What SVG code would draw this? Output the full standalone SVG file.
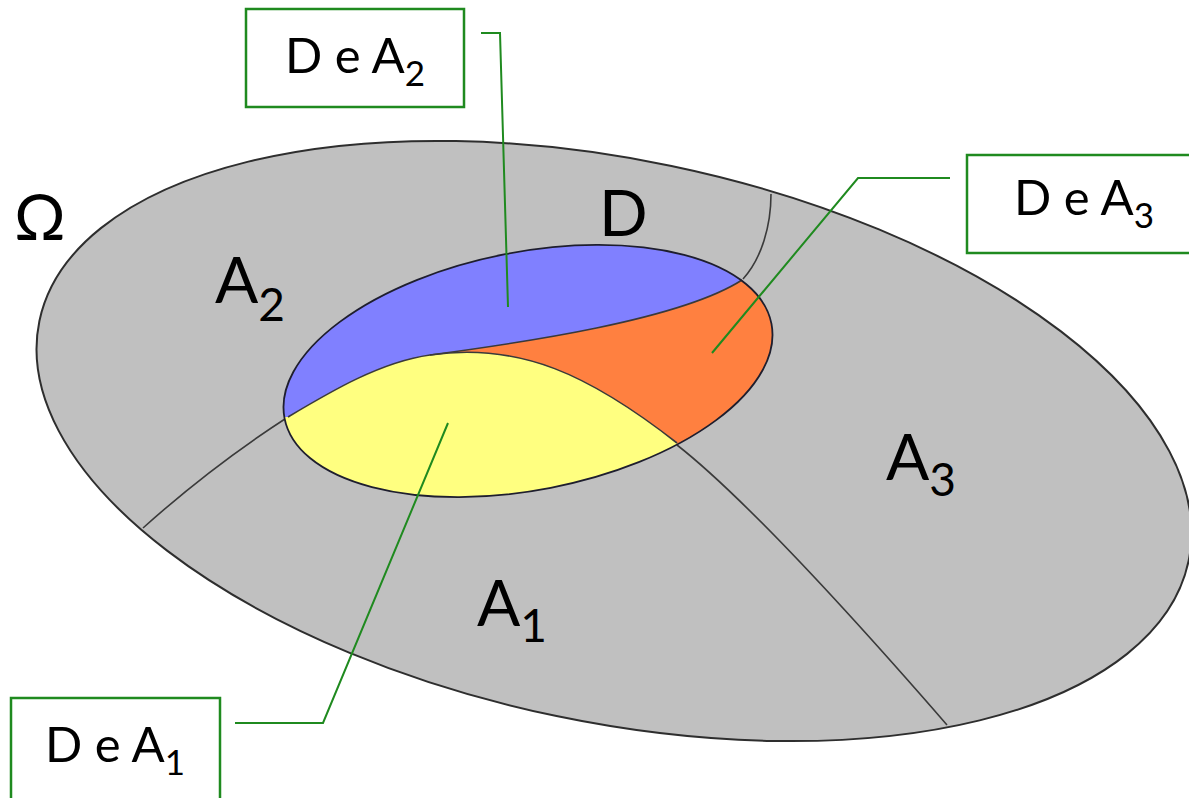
<svg xmlns="http://www.w3.org/2000/svg" width="1189" height="798" viewBox="0 0 1189 798">
  <style>
    .lbl { font-family: Lato, "Open Sans", "Noto Sans", sans-serif; fill: #000; }
    .big { font-size: 64px; }
    .sub { font-size: 46px; }
    .box { fill: #fff; stroke: #1f8a1f; stroke-width: 2.5; }
    .boxtxt { font-size: 49px; }
    .boxsub { font-size: 35px; }
    .lead { fill: none; stroke: #1f8a1f; stroke-width: 2; }
    .div { fill: none; stroke: #3a3a3a; stroke-width: 1.6; }
  </style>
  <defs>
    <clipPath id="inner-clip">
      <ellipse cx="528" cy="371" rx="248" ry="119" transform="rotate(-11 528 371)"/>
    </clipPath>
  </defs>

  <rect width="1189" height="798" fill="#fff"/>

  <!-- Omega: the whole domain -->
  <g id="omega">
    <ellipse cx="614" cy="441" rx="587" ry="281" transform="rotate(11.8 614 441)" fill="#c0c0c0" stroke="#2e2e2e" stroke-width="2"/>
    <text class="lbl big" x="14" y="240">Ω</text>
  </g>

  <!-- partition lines between A1, A2, A3 -->
  <g id="partition">
    <path class="div" d="M143,528 Q212,466 288,417"/>
    <path class="div" d="M677,445 Q760,510 947,725"/>
    <path class="div" d="M771,194 C771,225 762,258 743,279"/>
  </g>

  <!-- D split into its three pieces -->
  <g id="region-d">
    <g clip-path="url(#inner-clip)">
      <rect x="270" y="230" width="520" height="280" fill="#8080ff"/>
      <path d="M288,417 C330,392 380,362 430,355 C520,343 680,320 742,280 L800,270 L800,520 L260,520 L260,417 Z" fill="#ff8040"/>
      <path d="M288,417 C330,392 380,362 430,355 C520,342 590,375 677,443 L690,520 L260,520 L260,417 Z" fill="#ffff80"/>
    </g>
    <path class="div" d="M288,417 C330,392 380,362 430,355 C520,343 680,320 742,280"/>
    <path class="div" d="M430,355 C520,342 590,375 677,443"/>
    <ellipse cx="528" cy="371" rx="248" ry="119" transform="rotate(-11 528 371)" fill="none" stroke="#1e1e2e" stroke-width="1.8"/>
    <text class="lbl big" x="599" y="236">D</text>
  </g>

  <g id="label-a1">
    <text class="lbl big" x="477" y="626">A<tspan class="sub" dy="16">1</tspan></text>
  </g>
  <g id="label-a2">
    <text class="lbl big" x="215" y="303">A<tspan class="sub" dy="18">2</tspan></text>
  </g>
  <g id="label-a3">
    <text class="lbl big" x="886" y="480">A<tspan class="sub" dy="16">3</tspan></text>
  </g>

  <!-- callout leaders -->
  <g id="connectors">
    <path class="lead" d="M481,33 H500 L508,307"/>
    <path class="lead" d="M950,178 H858 L712,353"/>
    <path class="lead" d="M235,723 H323 L448,423"/>
  </g>

  <!-- callout boxes -->
  <g id="callout-d-a2">
    <rect class="box" x="246" y="9" width="218" height="98"/>
    <text class="lbl boxtxt" x="355" y="73" text-anchor="middle">D e A<tspan class="boxsub" dy="13">2</tspan></text>
  </g>
  <g id="callout-d-a3">
    <rect class="box" x="967" y="155" width="240" height="98"/>
    <text class="lbl boxtxt" x="1084" y="215" text-anchor="middle">D e A<tspan class="boxsub" dy="13">3</tspan></text>
  </g>
  <g id="callout-d-a1">
    <rect class="box" x="11" y="698" width="209" height="110"/>
    <text class="lbl boxtxt" x="115" y="762" text-anchor="middle">D e A<tspan class="boxsub" dy="13">1</tspan></text>
  </g>
</svg>
